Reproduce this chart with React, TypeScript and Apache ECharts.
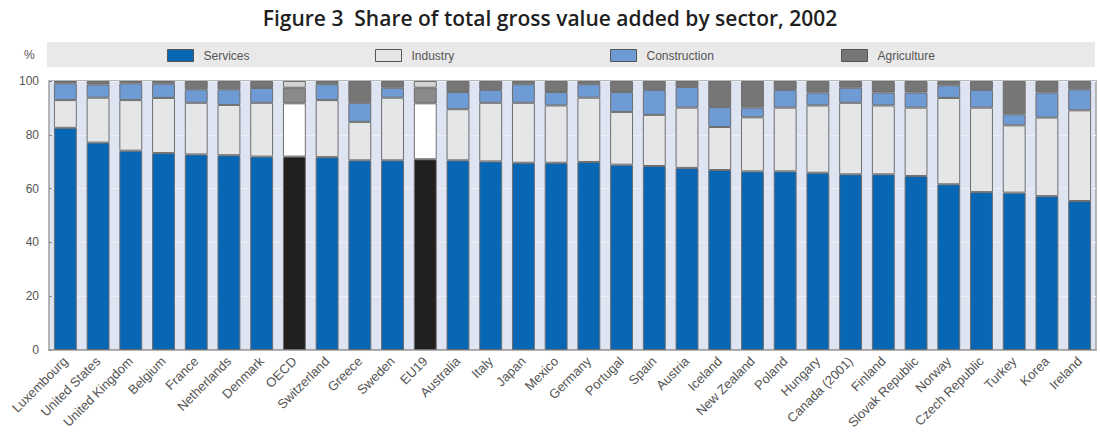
import React, { useEffect, useRef } from "react";
import * as echarts from "echarts";

const categories = [
  "Luxembourg", "United States", "United Kingdom", "Belgium", "France", "Netherlands", "Denmark", "OECD",
  "Switzerland", "Greece", "Sweden", "EU19", "Australia", "Italy", "Japan", "Mexico", "Germany", "Portugal",
  "Spain", "Austria", "Iceland", "New Zealand", "Poland", "Hungary", "Canada (2001)", "Finland",
  "Slovak Republic", "Norway", "Czech Republic", "Turkey", "Korea", "Ireland",
];

const services = [
  82.6, 77.1, 74.1, 73.2, 72.7, 72.4, 71.9, 71.9, 71.7, 70.5, 70.5, 70.9, 70.5, 70.1, 69.6, 69.6,
  69.9, 68.9, 68.4, 67.7, 66.9, 66.4, 66.4, 65.9, 65.3, 65.3, 64.7, 61.6, 58.7, 58.5, 57.2, 55.4,
];
const industry = [
  10.3, 16.7, 18.8, 20.5, 19.2, 18.7, 20.0, 19.8, 21.2, 14.3, 23.3, 20.8, 19.0, 21.8, 22.3, 21.3,
  23.9, 19.6, 19.0, 22.4, 16.0, 20.1, 23.7, 25.0, 26.6, 25.6, 25.4, 32.1, 31.4, 25.0, 29.2, 33.7,
];
const construction = [
  6.2, 4.9, 6.2, 5.3, 5.0, 5.8, 5.5, 5.8, 5.9, 7.1, 3.7, 5.8, 6.4, 4.8, 6.9, 5.0,
  5.0, 7.4, 9.3, 7.7, 7.4, 3.6, 6.6, 4.8, 5.6, 4.8, 5.6, 4.7, 6.6, 4.1, 9.3, 7.8,
];
const agriculture = [
  0.9, 1.3, 0.9, 1.0, 3.1, 3.1, 2.6, 2.5, 1.2, 8.1, 2.5, 2.5, 4.1, 3.3, 1.2, 4.1,
  1.2, 4.1, 3.3, 2.2, 9.7, 9.9, 3.3, 4.3, 2.5, 4.3, 4.3, 1.6, 3.3, 12.4, 4.3, 3.1,
];

const aggregates = ["OECD", "EU19"];
const seriesNames = ["Services", "Industry", "Construction", "Agriculture"];
const seriesColors = ["#0767b5", "#e5e6e8", "#6f9bd5", "#767676"];
const aggregateColors = ["#221f1f", "#ffffff", "#8a8a8a", "#d2d2d2"];
const legendLefts = [167, 375, 610, 841];

export default function App() {
  const ref = useRef<HTMLDivElement>(null);
  useEffect(() => {
    if (!ref.current) return;
    const chart = echarts.init(ref.current, undefined, { renderer: "svg" });
    const font = "'Liberation Sans Narrow', 'Liberation Sans', Arial, sans-serif";
    const values = [services, industry, construction, agriculture];
    const series = seriesNames.map((name, si) => ({
      name,
      type: "bar",
      stack: "total",
      barWidth: "70%",
      itemStyle: { color: seriesColors[si], borderColor: "#6e6e6e", borderWidth: 1 },
      data: values[si].map((v, i) =>
        aggregates.includes(categories[i])
          ? { value: v, itemStyle: { color: aggregateColors[si] } }
          : v
      ),
    }));
    chart.setOption({
      animation: false,
      textStyle: { fontFamily: font },
      title: {
        text: "Figure 3  Share of total gross value added by sector, 2002",
        left: "center",
        top: 2,
        textStyle: {
          fontFamily: "'Open Sans', 'Noto Sans', sans-serif",
          fontSize: 21,
          fontWeight: 600,
          color: "#1f1f1f",
        },
      },
      legend: seriesNames.map((name, i) => ({
        data: [name],
        left: legendLefts[i],
        top: 49,
        padding: 0,
        itemWidth: 26,
        itemHeight: 12,
        itemGap: 10,
        selectedMode: false,
        icon: "rect",
        itemStyle: { borderColor: "#555", borderWidth: 1 },
        textStyle: { fontFamily: font, fontSize: 12, color: "#555", padding: [0, 0, 0, 5] },
      })),
      graphic: [
        {
          type: "rect",
          z: -1,
          shape: { x: 47, y: 42, width: 1048, height: 25 },
          style: { fill: "#e9e9e9" },
        },
        {
          type: "text",
          x: 24,
          y: 49,
          style: { text: "%", fontFamily: font, fontSize: 12, fill: "#555" },
        },
      ],
      grid: {
        left: 49,
        right: 4,
        top: 81,
        bottom: 93,
        show: true,
        backgroundColor: "#dfe4f2",
        borderColor: "#a0a0a0",
        borderWidth: 1.5,
      },
      xAxis: {
        type: "category",
        data: categories,
        axisTick: { show: false },
        axisLine: { lineStyle: { color: "#a0a0a0", width: 1.5 } },
        axisLabel: {
          interval: 0,
          rotate: 45,
          fontSize: 13,
          color: "#555",
          margin: 9,
        },
      },
      yAxis: {
        type: "value",
        min: 0,
        max: 100,
        interval: 20,
        axisLine: { show: false },
        axisTick: { show: true, inside: true, length: 3, lineStyle: { color: "#888" } },
        splitLine: { show: true, lineStyle: { color: "#edf0f8", width: 1 } },
        axisLabel: { fontSize: 12, color: "#555", margin: 10 },
      },
      series,
    });
    return () => chart.dispose();
  }, []);
  return (
    <div
      ref={ref}
      style={{ position: "fixed", left: 0, top: 0, width: 1100, height: 443, background: "#fff" }}
    />
  );
}
